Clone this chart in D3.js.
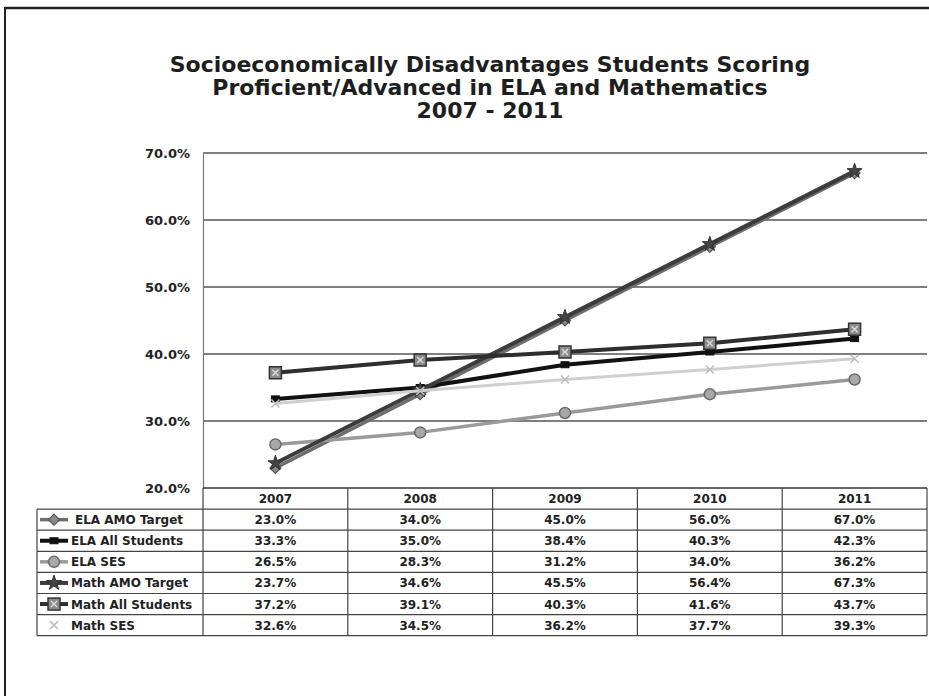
<!DOCTYPE html>
<html>
<head>
<meta charset="utf-8">
<script src="https://cdn.jsdelivr.net/npm/d3@7/dist/d3.min.js"></script>
<style>
  html, body { margin: 0; padding: 0; background: #fff; }
  svg { display: block; }
  text { font-family: "DejaVu Sans", Verdana, sans-serif; font-weight: bold; fill: #222; }
</style>
</head>
<body>
<svg id="chart" width="929" height="696"></svg>
<script>
// School years on the category axis
const years = ["2007", "2008", "2009", "2010", "2011"];

// Percent proficient/advanced per series
const elaAmoTarget   = [23.0, 34.0, 45.0, 56.0, 67.0];
const elaAllStudents = [33.3, 35.0, 38.4, 40.3, 42.3];
const elaSes         = [26.5, 28.3, 31.2, 34.0, 36.2];
const mathAmoTarget  = [23.7, 34.6, 45.5, 56.4, 67.3];
const mathAllStudents= [37.2, 39.1, 40.3, 41.6, 43.7];
const mathSes        = [32.6, 34.5, 36.2, 37.7, 39.3];

const seriesNames = ["ELA AMO Target", "ELA All Students", "ELA SES",
                     "Math AMO Target", "Math All Students", "Math SES"];
const yTicks = [20, 30, 40, 50, 60, 70];

const titleLines = [
  "Socioeconomically Disadvantages Students Scoring",
  "Proficient/Advanced in ELA and Mathematics",
  "2007 - 2011"
];

// Line and marker styling per series
const styles = [
  { stroke: "#6e6e6e", width: 3.5, marker: "diamond", fill: "#8a8a8a", mstroke: "#555" },
  { stroke: "#111111", width: 4,   marker: "square",  fill: "#111",    mstroke: "#111" },
  { stroke: "#9a9a9a", width: 3.5, marker: "circle",  fill: "#a8a8a8", mstroke: "#6a6a6a" },
  { stroke: "#3c3c3c", width: 4,   marker: "star",    fill: "#444",    mstroke: "#333" },
  { stroke: "#2e2e2e", width: 4,   marker: "xsquare", fill: "#8c8c8c", mstroke: "#333" },
  { stroke: "#cfcfcf", width: 3,   marker: "x",       fill: "none",    mstroke: "#bdbdbd" }
];

const seriesValues = [elaAmoTarget, elaAllStudents, elaSes, mathAmoTarget, mathAllStudents, mathSes];
const series = seriesNames.map((name, i) => ({ name, values: seriesValues[i], style: styles[i] }));

const svg = d3.select("#chart");

// Frame around the whole chart
svg.append("line").attr("x1", 5).attr("x2", 929).attr("y1", 8).attr("y2", 8)
  .attr("stroke", "#222").attr("stroke-width", 2.5);
svg.append("line").attr("x1", 5).attr("x2", 5).attr("y1", 7).attr("y2", 696)
  .attr("stroke", "#222").attr("stroke-width", 2);

// Title
const title = svg.append("g");
titleLines.forEach((t, i) => {
  title.append("text")
    .attr("x", 490).attr("y", 72 + i * 23)
    .attr("text-anchor", "middle")
    .style("font-size", "22px")
    .style("fill", "#1e1e1e")
    .text(t);
});

// Plot geometry
const plot = { left: 203, right: 927, top: 153, bottom: 488 };
const x = d3.scaleBand().domain(years).range([plot.left, plot.right]);
const y = d3.scaleLinear().domain([20, 70]).range([plot.bottom, plot.top]);
const cx = d => x(d) + x.bandwidth() / 2;

// Horizontal gridlines
svg.append("g").selectAll("line").data(yTicks.slice(1)).join("line")
  .attr("x1", plot.left).attr("x2", plot.right)
  .attr("y1", d => y(d)).attr("y2", d => y(d))
  .attr("stroke", "#555").attr("stroke-width", 1.3);

// Value axis
const yAxis = svg.append("g")
  .attr("transform", `translate(${plot.left},0)`)
  .call(d3.axisLeft(y).tickValues(yTicks).tickSize(0).tickPadding(13)
        .tickFormat(d => d3.format(".1f")(d) + "%"));
yAxis.select(".domain").attr("stroke", "#777").attr("stroke-width", 1.2);
yAxis.selectAll("text").style("font-size", "13px").style("font-family", "\"DejaVu Sans\", sans-serif")
  .style("font-weight", "bold").attr("fill", "#222");

// Marker shapes
function drawMarker(g, type, px, py, st) {
  const s = 4.5;
  if (type === "diamond") {
    g.append("path").attr("d", `M${px},${py - s - 1}L${px + s + 1},${py}L${px},${py + s + 1}L${px - s - 1},${py}Z`)
      .attr("fill", st.fill).attr("stroke", st.mstroke).attr("stroke-width", 1.2);
  } else if (type === "square") {
    g.append("rect").attr("x", px - 4).attr("y", py - 3).attr("width", 8).attr("height", 6)
      .attr("fill", st.fill).attr("stroke", st.mstroke);
  } else if (type === "circle") {
    g.append("circle").attr("cx", px).attr("cy", py).attr("r", 5.5)
      .attr("fill", st.fill).attr("stroke", st.mstroke).attr("stroke-width", 1.5);
  } else if (type === "star") {
    g.append("path").attr("d", d3.symbol().type(d3.symbolStar).size(70)())
      .attr("transform", `translate(${px},${py})`)
      .attr("fill", st.fill).attr("stroke", st.mstroke).attr("stroke-width", 1);
  } else if (type === "xsquare") {
    g.append("rect").attr("x", px - 6).attr("y", py - 6).attr("width", 12).attr("height", 12)
      .attr("fill", st.fill).attr("stroke", st.mstroke).attr("stroke-width", 1.5);
    g.append("path").attr("d", `M${px - 3},${py - 3}L${px + 3},${py + 3}M${px + 3},${py - 3}L${px - 3},${py + 3}`)
      .attr("stroke", "#ddd").attr("stroke-width", 1.3);
  } else if (type === "x") {
    g.append("path").attr("d", `M${px - 4},${py - 4}L${px + 4},${py + 4}M${px + 4},${py - 4}L${px - 4},${py + 4}`)
      .attr("stroke", st.mstroke).attr("stroke-width", 1.5);
  }
}

// Series lines and markers
const line = d3.line().x((d, i) => cx(years[i])).y(d => y(d));
const linesG = svg.append("g");
series.forEach(s => {
  linesG.append("path").datum(s.values)
    .attr("d", line).attr("fill", "none")
    .attr("stroke", s.style.stroke).attr("stroke-width", s.style.width)
    .attr("stroke-linejoin", "round");
  s.values.forEach((v, i) => drawMarker(linesG, s.style.marker, cx(years[i]), y(v), s.style));
});

// Data table under the plot
const table = { left: 37, headerTop: plot.bottom, rowH: 21.1 };
const rowsTop = table.headerTop + table.rowH;
const tableBottom = rowsTop + table.rowH * series.length;
const tg = svg.append("g");

// Bottom axis / table header line
tg.append("line").attr("x1", plot.left).attr("x2", plot.right)
  .attr("y1", plot.bottom).attr("y2", plot.bottom)
  .attr("stroke", "#333").attr("stroke-width", 1.6);

// Row separators
d3.range(series.length + 1).forEach(i => {
  const yy = rowsTop + i * table.rowH;
  tg.append("line").attr("x1", table.left).attr("x2", plot.right)
    .attr("y1", yy).attr("y2", yy).attr("stroke", "#444").attr("stroke-width", 1.2);
});
// Column separators
years.map(d => x(d)).concat([plot.right]).forEach(xx => {
  tg.append("line").attr("x1", xx).attr("x2", xx)
    .attr("y1", plot.bottom).attr("y2", tableBottom)
    .attr("stroke", "#444").attr("stroke-width", 1.2);
});
tg.append("line").attr("x1", table.left).attr("x2", table.left)
  .attr("y1", rowsTop).attr("y2", tableBottom).attr("stroke", "#444").attr("stroke-width", 1.2);

// Header years
years.forEach(d => {
  tg.append("text").attr("x", cx(d)).attr("y", table.headerTop + table.rowH / 2 + 4.5)
    .attr("text-anchor", "middle").style("font-size", "12px").text(d);
});

// Rows: legend key, name and values
series.forEach((s, r) => {
  const ym = rowsTop + r * table.rowH + table.rowH / 2;
  if (r !== 5) {
    tg.append("line").attr("x1", 40).attr("x2", 68).attr("y1", ym).attr("y2", ym)
      .attr("stroke", s.style.stroke).attr("stroke-width", s.style.width);
  }
  drawMarker(tg, s.style.marker, 54, ym, s.style);
  tg.append("text").attr("x", r === 0 ? 75 : 71).attr("y", ym + 4.5)
    .style("font-size", "12px").text(s.name);
  s.values.forEach((v, i) => {
    tg.append("text").attr("x", cx(years[i])).attr("y", ym + 4.5)
      .attr("text-anchor", "middle").style("font-size", "12px")
      .text(d3.format(".1f")(v) + "%");
  });
});
</script>
</body>
</html>
